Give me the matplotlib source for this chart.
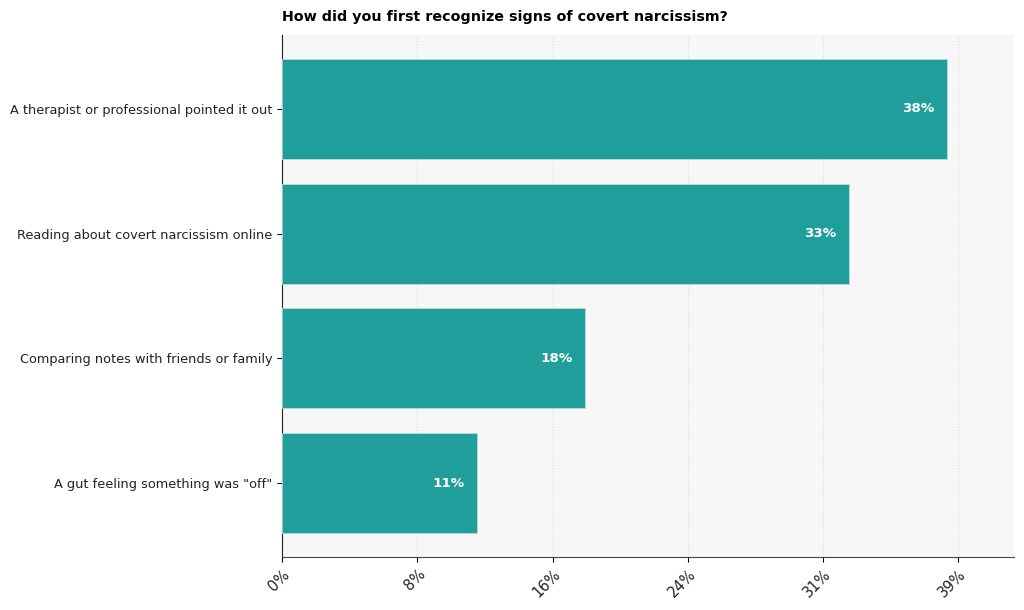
import matplotlib.pyplot as plt
import numpy as np

# survey answers, top to bottom
categories = [
    'A therapist or professional pointed it out',
    'Reading about covert narcissism online',
    'Comparing notes with friends or family',
    'A gut feeling something was "off"',
]
values = [38.6, 32.9, 17.6, 11.3]
value_labels = ['38%', '33%', '18%', '11%']

# x ticks as shown on the chart
tick_pos = [0, 7.85, 15.7, 23.55, 31.4, 39.25]
tick_labels = ['0%', '8%', '16%', '24%', '31%', '39%']

bar_color = '#1f9e9b'

fig = plt.figure(figsize=(10.24, 6.10), dpi=100)
ax = fig.add_axes([0.2754, 0.0869, 0.7146, 0.8557])
ax.set_facecolor('#f7f7f7')

y = np.arange(len(categories))
bars = ax.barh(y, values, height=0.8, color=bar_color,
               edgecolor='#b9dedd', linewidth=0.6, zorder=3)
ax.invert_yaxis()

ax.set_yticks(y)
ax.set_yticklabels(categories, fontsize=9.3, color='#222222')
ax.set_xticks(tick_pos)
ax.set_xticklabels(tick_labels, fontsize=10.5, rotation=45, color='#222222',
                   ha='right', rotation_mode='anchor')
ax.set_xlim(0, max(values) * 1.1)

for b, lab in zip(bars, value_labels):
    ax.annotate(lab, (b.get_width(), b.get_y() + b.get_height() / 2),
                xytext=(-9, 0), textcoords='offset points',
                ha='right', va='center', color='white',
                fontsize=9.7, fontweight='bold', zorder=4)

ax.grid(axis='x', linestyle=':', color='#d9d9d9', linewidth=0.8, zorder=0)
ax.grid(axis='y', visible=False)
for s in ['top', 'right']:
    ax.spines[s].set_visible(False)
ax.spines['left'].set_color('#222222')
ax.spines['bottom'].set_color('#444444')

ax.set_title('How did you first recognize signs of covert narcissism?',
             loc='left', fontsize=10.3, fontweight='bold', pad=10)

fig.savefig('out.png', dpi=100)
